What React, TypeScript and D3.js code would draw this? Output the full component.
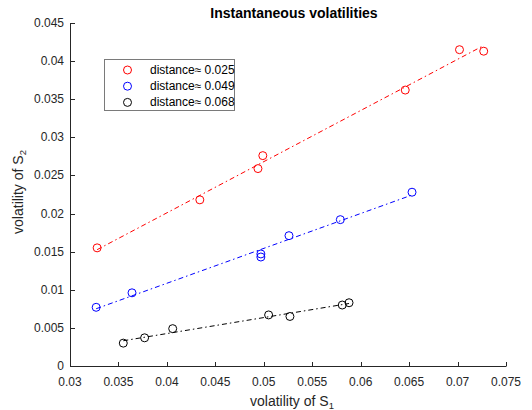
import React from "react";
import * as d3 from "d3";

const W = 532;
const H = 410;

const xTicks = [0.03, 0.035, 0.04, 0.045, 0.05, 0.055, 0.06, 0.065, 0.07, 0.075];
const yTicks = [0, 0.005, 0.01, 0.015, 0.02, 0.025, 0.03, 0.035, 0.04, 0.045];

const redX = [0.0328, 0.0434, 0.0494, 0.0499, 0.0646, 0.0702, 0.0727];
const redY = [0.0155, 0.0218, 0.0259, 0.0276, 0.0362, 0.0415, 0.0413];
const blueX = [0.0327, 0.0364, 0.0497, 0.0497, 0.0526, 0.0579, 0.0653];
const blueY = [0.0077, 0.0096, 0.0147, 0.0143, 0.0171, 0.0192, 0.0228];
const blackX = [0.0355, 0.0377, 0.0406, 0.0505, 0.0527, 0.0581, 0.0588];
const blackY = [0.003, 0.0037, 0.0049, 0.0067, 0.0065, 0.008, 0.0083];

const seriesNames = ["distance\u2248 0.025", "distance\u2248 0.049", "distance\u2248 0.068"];
const seriesColors = ["#ff0000", "#0000ff", "#000000"];

const series = [
  { xs: redX, ys: redY },
  { xs: blueX, ys: blueY },
  { xs: blackX, ys: blackY },
];

function fit(xs: number[], ys: number[]) {
  const mx = d3.mean(xs)!;
  const my = d3.mean(ys)!;
  let sxy = 0, sxx = 0;
  xs.forEach((x, i) => {
    sxy += (x - mx) * (ys[i] - my);
    sxx += (x - mx) * (x - mx);
  });
  const b = sxy / sxx;
  const a = my - b * mx;
  const x0 = d3.min(xs)!;
  const x1 = d3.max(xs)!;
  return [
    [x0, a + b * x0],
    [x1, a + b * x1],
  ];
}

export default function App() {
  const x = d3.scaleLinear().domain([0.03, 0.075]).range([70, 506]);
  const y = d3.scaleLinear().domain([0, 0.045]).range([366, 23]);
  const axisColor = "#262626";
  const font = "'Liberation Sans', Arial, Helvetica, sans-serif";
  const line = d3
    .line<number[]>()
    .x((d) => x(d[0]))
    .y((d) => y(d[1]));
  const fmt = (v: number) => String(+v.toFixed(3));

  return (
    <svg
      width={W}
      height={H}
      style={{ position: "absolute", left: 0, top: 0, background: "#fff" }}
      fontFamily={font}
    >
      <rect x={0} y={0} width={W} height={H} fill="#fff" />
      {/* axes lines */}
      <line x1={70.5} y1={y(0.045)} x2={70.5} y2={366.5} stroke={axisColor} strokeWidth={1} />
      <line x1={70} y1={366.5} x2={506.5} y2={366.5} stroke={axisColor} strokeWidth={1} />
      {xTicks.map((t) => (
        <g key={"xt" + t}>
          <line x1={Math.round(x(t)) + 0.5} x2={Math.round(x(t)) + 0.5} y1={366} y2={362} stroke={axisColor} />
          <text x={x(t)} y={386} textAnchor="middle" fontSize={12} fill={axisColor}>
            {fmt(t)}
          </text>
        </g>
      ))}
      {yTicks.map((t) => (
        <g key={"yt" + t}>
          <line x1={70} x2={75} y1={Math.round(y(t)) + 0.5} y2={Math.round(y(t)) + 0.5} stroke={axisColor} />
          <text x={64} y={y(t) + 4} textAnchor="end" fontSize={12} fill={axisColor}>
            {fmt(t)}
          </text>
        </g>
      ))}
      {/* axis labels */}
      <text x={292} y={406} textAnchor="middle" fontSize={14} fill={axisColor}>
        volatility of S
        <tspan fontSize={9.5} dy={3}>1</tspan>
      </text>
      <text
        transform={`translate(23,192) rotate(-90)`}
        textAnchor="middle"
        fontSize={14}
        fill={axisColor}
      >
        volatility of S
        <tspan fontSize={9.5} dy={3}>2</tspan>
      </text>
      {/* title */}
      <text x={294} y={18} textAnchor="middle" fontSize={14} fontWeight="bold" fill="#000">
        Instantaneous volatilities
      </text>
      {/* series */}
      {series.map((s, i) => (
        <g key={"s" + i}>
          <path
            d={line(fit(s.xs, s.ys))!}
            fill="none"
            stroke={seriesColors[i]}
            strokeWidth={1}
            strokeDasharray="5,3,1.5,3"
          />
          {s.xs.map((xv, j) => (
            <circle
              key={j}
              cx={x(xv)}
              cy={y(s.ys[j])}
              r={4}
              fill="none"
              stroke={seriesColors[i]}
              strokeWidth={1}
            />
          ))}
        </g>
      ))}
      {/* legend */}
      <rect x={104.5} y={59.5} width={130} height={51} fill="#fff" stroke="#7a7a7a" strokeWidth={1} />
      {seriesNames.map((n, i) => (
        <g key={"lg" + i}>
          <circle cx={127.5} cy={70 + i * 16.2} r={4} fill="none" stroke={seriesColors[i]} strokeWidth={1} />
          <text x={150} y={70 + i * 16.2 + 4} fontSize={12} fill="#000">
            {n}
          </text>
        </g>
      ))}
    </svg>
  );
}
